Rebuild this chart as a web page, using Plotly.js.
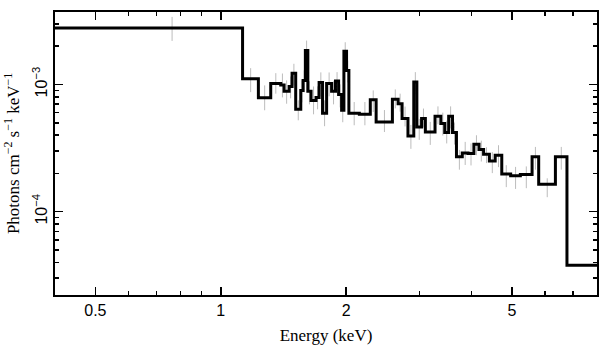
<!DOCTYPE html>
<html>
<head>
<meta charset="utf-8">
<script src="https://cdn.plot.ly/plotly-3.0.1.min.js"></script>
<style>html,body{margin:0;padding:0;background:#fff;}#chart{width:609px;height:357px;}</style>
</head>
<body>
<div id="chart"></div>
<script>
// Bin edges (keV)
const binEdges = [0.4, 1.128, 1.231, 1.318, 1.393, 1.419, 1.459, 1.483, 1.513, 1.556, 1.576, 1.596, 1.618, 1.647, 1.693, 1.722, 1.755, 1.795, 1.845, 1.885, 1.918, 1.950, 1.975, 2.004, 2.030, 2.151, 2.285, 2.360, 2.582, 2.665, 2.724, 2.814, 2.906, 2.956, 3.034, 3.098, 3.268, 3.375, 3.448, 3.524, 3.600, 3.679, 3.799, 3.923, 4.051, 4.167, 4.274, 4.413, 4.557, 4.726, 4.964, 5.237, 5.588, 5.796, 6.357, 6.776, 8.0];
// Flux per bin (photons cm^-2 s^-1 keV^-1)
const flux = [2.787e-3, 1.110e-3, 7.88e-4, 1.020e-3, 9.93e-4, 8.83e-4, 9.66e-4, 1.228e-3, 6.38e-4, 8.99e-4, 1.077e-3, 1.850e-3, 8.83e-4, 7.50e-4, 7.92e-4, 1.039e-3, 5.94e-4, 1.020e-3, 8.83e-4, 1.063e-3, 8.36e-4, 6.27e-4, 1.827e-3, 1.290e-3, 5.94e-4, 5.83e-4, 7.60e-4, 5.07e-4, 7.64e-4, 7.07e-4, 5.40e-4, 3.94e-4, 1.044e-3, 4.64e-4, 5.40e-4, 4.24e-4, 5.62e-4, 4.93e-4, 4.19e-4, 5.62e-4, 4.19e-4, 2.70e-4, 2.90e-4, 2.87e-4, 3.39e-4, 3.08e-4, 2.83e-4, 2.50e-4, 2.78e-4, 1.975e-4, 1.914e-4, 1.964e-4, 2.70e-4, 1.640e-4, 2.70e-4, 3.80e-5];
// Error bar upper / lower bounds
const errHi = [3.40e-3, 1.344e-3, 9.84e-4, 1.228e-3, 1.22e-3, 1.077e-3, 1.157e-3, 1.455e-3, 7.51e-4, 1.077e-3, 1.290e-3, 2.216e-3, 1.058e-3, 9.65e-4, 9.66e-4, 1.245e-3, 7.51e-4, 1.244e-3, 1.058e-3, 1.251e-3, 1.002e-3, 7.79e-4, 2.150e-3, 1.545e-3, 7.28e-4, 7.28e-4, 8.99e-4, 6.30e-4, 9.15e-4, 8.47e-4, 6.71e-4, 4.81e-4, 1.251e-3, 5.36e-4, 6.47e-4, 5.08e-4, 6.73e-4, 6.01e-4, 5.20e-4, 6.73e-4, 5.02e-4, 3.06e-4, 3.54e-4, 3.44e-4, 3.99e-4, 3.62e-4, 3.21e-4, 2.94e-4, 3.33e-4, 2.32e-4, 2.25e-4, 2.27e-4, 3.23e-4, 1.83e-4, 3.23e-4, null];
const errLo = [2.20e-3, 8.71e-4, 6.27e-4, 8.47e-4, 7.92e-4, 7.06e-4, 7.78e-4, 9.82e-4, 5.23e-4, 7.24e-4, 8.67e-4, 1.411e-3, 6.98e-4, 5.83e-4, 6.38e-4, 8.07e-4, 4.70e-4, 8.07e-4, 6.98e-4, 8.56e-4, 6.61e-4, 5.05e-4, 1.471e-3, 1.038e-3, 4.78e-4, 4.78e-4, 6.08e-4, 4.23e-4, 6.49e-4, 6.12e-4, 4.68e-4, 3.12e-4, 8.40e-4, 3.67e-4, 4.59e-4, 3.35e-4, 4.87e-4, 3.97e-4, 3.44e-4, 4.52e-4, 3.37e-4, 2.14e-4, 2.33e-4, 2.31e-4, 2.78e-4, 2.48e-4, 2.41e-4, 2.01e-4, 2.24e-4, 1.56e-4, 1.51e-4, 1.53e-4, 2.14e-4, 1.30e-4, 2.14e-4, null];

const xTickVals = [0.5, 1, 2, 5];
const xTickText = ['0.5', '1', '2', '5'];
const xMinorVals = [0.6, 0.7, 0.8, 0.9, 3, 4, 6, 7];
const yTickVals = [1e-4, 1e-3];
const yTickText = ['10<sup>\u22124</sup>', '10<sup>\u22123</sup>'];
const yMinorVals = [3e-5, 4e-5, 5e-5, 6e-5, 7e-5, 8e-5, 9e-5, 2e-4, 3e-4, 4e-4, 5e-4, 6e-4, 7e-4, 8e-4, 9e-4, 2e-3, 3e-3];

// step line
const stepX = binEdges.slice();
const stepY = flux.concat([flux[flux.length - 1]]);

// error bars at bin centres
const ex = [], ey = [];
for (let i = 0; i < flux.length; i++) {
  if (errHi[i] == null) continue;
  const c = (binEdges[i] + binEdges[i + 1]) / 2;
  ex.push(c, c, null);
  ey.push(errLo[i], errHi[i], null);
}

const traces = [
  {x: ex, y: ey, type: 'scatter', mode: 'lines', line: {color: '#bcbcbc', width: 1}, hoverinfo: 'skip'},
  {x: stepX, y: stepY, type: 'scatter', mode: 'lines', line: {color: '#000', width: 3, shape: 'hv'}}
];

const sansFont = 'Liberation Sans, Arial, sans-serif';
const serifFont = 'Liberation Serif, Times New Roman, serif';

const layout = {
  width: 609, height: 357,
  margin: {l: 55, r: 12, t: 12, b: 62},
  paper_bgcolor: '#fff', plot_bgcolor: '#fff',
  showlegend: false,
  xaxis: {
    type: 'log', range: [Math.log10(0.4), Math.log10(8)],
    showgrid: false, zeroline: false,
    showline: true, linecolor: '#000', linewidth: 2, mirror: 'allticks',
    ticks: 'inside', ticklen: 8, tickwidth: 1.5, tickcolor: '#000',
    tickmode: 'array', tickvals: xTickVals, ticktext: xTickText,
    tickfont: {family: sansFont, size: 16, color: '#000'},
    minor: {tickmode: 'array', tickvals: xMinorVals, ticks: 'inside', ticklen: 4, tickwidth: 1.5, tickcolor: '#000', showgrid: false},
    title: {text: 'Energy (keV)', font: {family: serifFont, size: 17, color: '#000'}, standoff: 11}
  },
  yaxis: {
    type: 'log', range: [-4.655, -2.43],
    showgrid: false, zeroline: false,
    showline: true, linecolor: '#000', linewidth: 2, mirror: 'allticks',
    ticks: 'inside', ticklen: 8, tickwidth: 1.5, tickcolor: '#000',
    tickmode: 'array', tickvals: yTickVals, ticktext: yTickText, tickangle: -90,
    tickfont: {family: sansFont, size: 16, color: '#000'},
    minor: {tickmode: 'array', tickvals: yMinorVals, ticks: 'inside', ticklen: 4, tickwidth: 1.5, tickcolor: '#000', showgrid: false},
    title: {text: 'Photons cm<sup>\u22122</sup> s<sup>\u22121</sup> keV<sup>\u22121</sup>', font: {family: serifFont, size: 17, color: '#000'}, standoff: 6}
  }
};

Plotly.newPlot('chart', traces, layout, {displayModeBar: false, staticPlot: true});
</script>
</body>
</html>
